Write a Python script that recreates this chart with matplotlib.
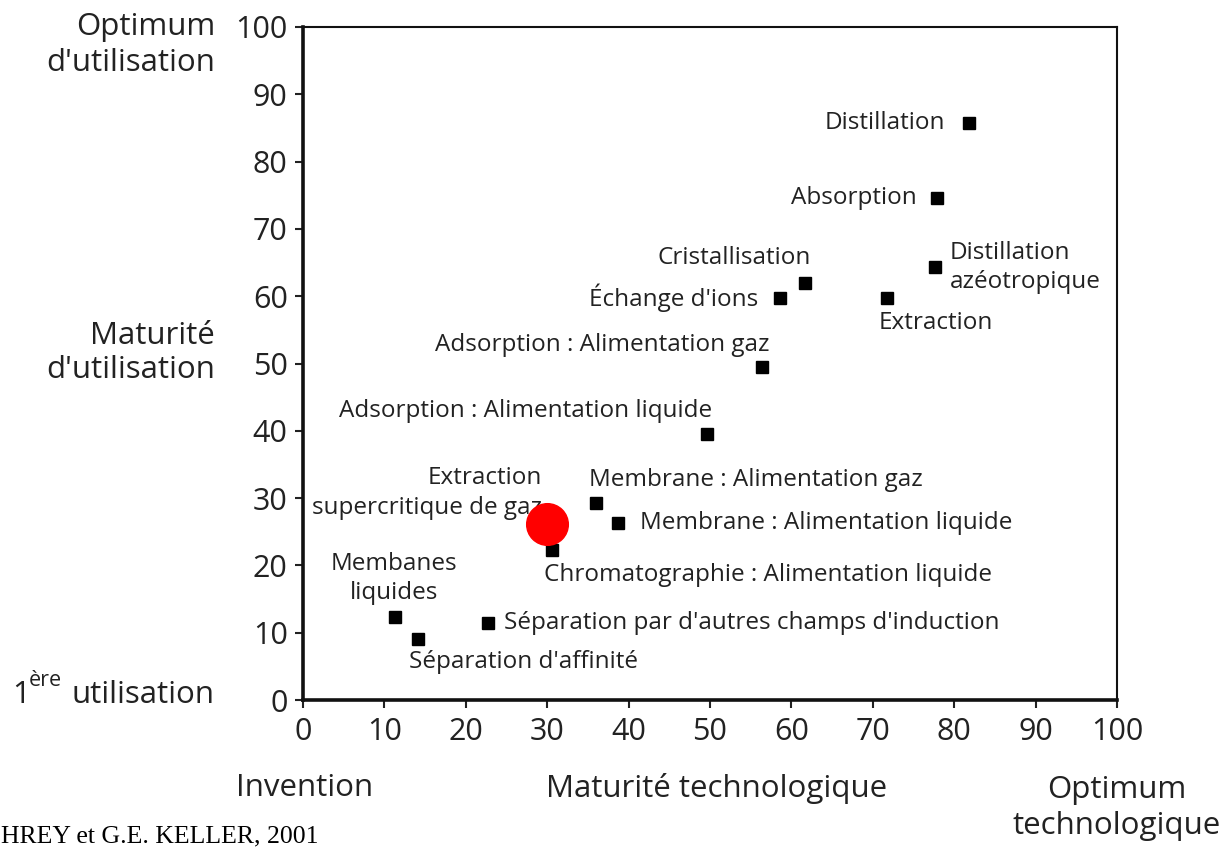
import matplotlib
matplotlib.use("Agg")
import matplotlib.pyplot as plt

plt.rcParams['font.family'] = ['Open Sans', 'DejaVu Sans']

# Data
procedes = ["Distillation", "Absorption", "Distillation\nazéotropique", "Cristallisation",
            "Échange d'ions", "Extraction", "Adsorption : Alimentation gaz",
            "Adsorption : Alimentation liquide", "Extraction\nsupercritique de gaz",
            "Membrane : Alimentation gaz", "Membrane : Alimentation liquide",
            "Chromatographie : Alimentation liquide", "Membanes\nliquides",
            "Séparation par d'autres champs d'induction", "Séparation d'affinité"]
maturite_techno = [81.8, 77.9, 77.6, 61.7, 58.6, 71.7, 56.4, 49.6, 30.0, 36.0, 38.7, 30.6, 11.3, 22.7, 14.1]
maturite_util = [85.7, 74.6, 64.3, 61.9, 59.7, 59.7, 49.5, 39.5, 26.2, 29.3, 26.3, 22.3, 12.3, 11.4, 9.1]
highlight_x = [30.0]
highlight_y = [26.2]
ticks = [0, 10, 20, 30, 40, 50, 60, 70, 80, 90, 100]

# label placement (offset points, ha, va)
offsets = [(-17, 0, 'right', 'center'), (-15, 0, 'right', 'center'), (11, 0, 'left', 'center'),
           (4, 18, 'right', 'center'), (-16, 0, 'right', 'center'), (-6, -18, 'left', 'center'),
           (5, 16, 'right', 'center'), (4, 16.5, 'right', 'center'), (-4, 22, 'right', 'center'),
           (-5, 16.5, 'left', 'center'), (16, 0, 'left', 'center'), (-6, -18, 'left', 'center'),
           (-1, 28, 'center', 'center'), (11.5, 0, 'left', 'center'), (-6, -17, 'left', 'center')]

TXT = '#222222'
fig = plt.figure(figsize=(12.27, 8.48), dpi=100)
ax = fig.add_axes([303/1227, 1-700/848, (1117-303)/1227, (700-27)/848])
ax.set_xlim(0, 100)
ax.set_ylim(0, 100)
ax.set_xticks(ticks)
ax.set_yticks(ticks)
ax.tick_params(labelsize=22, length=6, width=1.5, color=TXT, labelcolor=TXT)
ax.tick_params(axis='x', pad=6)
ax.tick_params(axis='y', pad=5)
for s in ['left', 'bottom']:
    ax.spines[s].set_linewidth(2.6)
for s in ['top', 'right']:
    ax.spines[s].set_linewidth(1.5)
for s in ax.spines.values():
    s.set_color('#111111')

ax.plot(maturite_techno, maturite_util, 's', color='black', ms=8, zorder=3)
for name, x, y, (dx, dy, ha, va) in zip(procedes, maturite_techno, maturite_util, offsets):
    ax.annotate(name, (x, y), xytext=(dx, dy), textcoords='offset points',
                ha=ha, va=va, fontsize=17.5, color=TXT, multialignment=ha,
                linespacing=1.3)
ax.plot(highlight_x, highlight_y, 'o', color='#ff0000', ms=30, zorder=4)

# side labels
fs = 22.5
fig.text(215/1227, 1-45/848, "Optimum\nd'utilisation", ha='right', va='center', fontsize=fs,
         color=TXT, linespacing=1.3)
fig.text(215/1227, 1-353/848, "Maturité\nd'utilisation", ha='right', va='center', fontsize=fs,
         color=TXT, linespacing=1.2)
fig.text(215/1227, 1-695/848, "utilisation", ha='right', va='center', fontsize=fs, color=TXT)
fig.text(29/1227, 1-681/848, "ère", ha='left', va='center', fontsize=15.5, color=TXT)
fig.text(12/1227, 1-695/848, "1", ha='left', va='center', fontsize=fs, color=TXT)

fig.text(305/1227, 1-788/848, "Invention", ha='center', va='center', fontsize=fs, color=TXT)
fig.text(717/1227, 1-788/848, "Maturité technologique", ha='center', va='center', fontsize=fs, color=TXT)
fig.text(1117/1227, 1-808/848, "Optimum\ntechnologique", ha='center', va='center', fontsize=fs,
         color=TXT, linespacing=1.3)
fig.text(1/1227, 1-842/848, "HREY et G.E. KELLER, 2001", ha='left', va='baseline',
         fontsize=18.5, family='Liberation Serif', color='black')

fig.savefig("out.png", dpi=100)
